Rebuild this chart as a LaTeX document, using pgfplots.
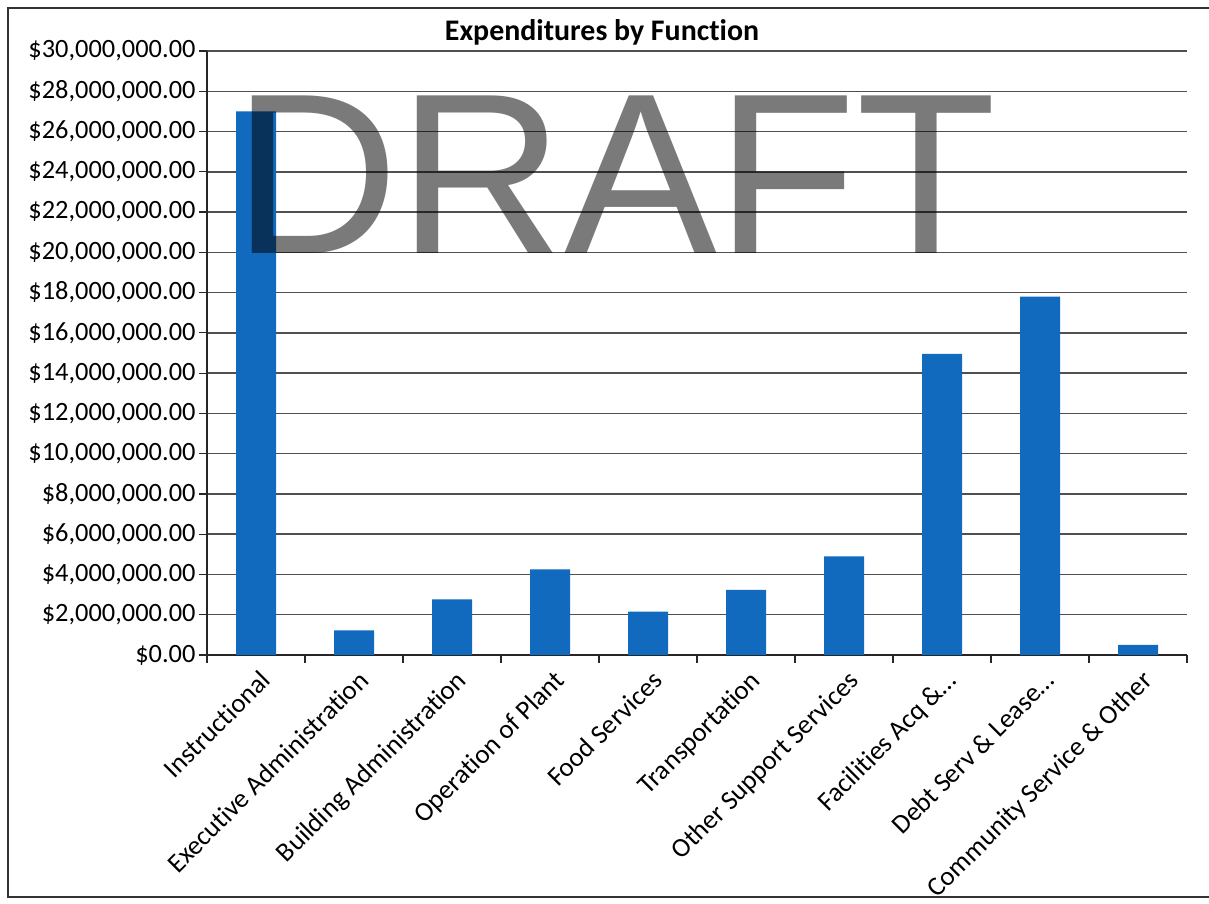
\documentclass[border=0pt]{standalone}
\usepackage{pgfplots}
\pgfplotsset{compat=1.18}
\usepackage{fontspec}
\setmainfont{Carlito}[Ligatures=NoCommon]
\newfontfamily\wmfont{Liberation Sans}
\definecolor{barblue}{RGB}{18,106,190}
\definecolor{gridgray}{RGB}{80,80,80}
\begin{document}
\begin{tikzpicture}[x=1bp,y=1bp]
\useasboundingbox (0,0) rectangle (1209,904);
% chart area frame
\draw[line width=1.5bp, black!80] (1209,896) -- (8,896) -- (8,7) -- (1209,7);
\begin{axis}[
  at={(207bp,249bp)}, anchor=south west,
  scale only axis, width=980bp, height=604bp,
  ybar, bar width=40bp,
  xmin=-0.5, xmax=9.5, ymin=0, ymax=30000000,
  enlargelimits=false,
  axis x line*=bottom, axis y line*=left,
  axis line style={-, black!85, line width=1.2bp},
  xtick=data,
  xticklabels={Instructional, Executive Administration, Building Administration,
    Operation of Plant, Food Services, Transportation, Other Support Services,
    Facilities Acq \&\ldots, Debt Serv \& Lease\ldots, Community Service \& Other},
  major x tick style={draw=none},
  minor xtick={-0.5,0.5,...,9.5},
  minor tick length=8bp, major tick length=8bp, tick align=outside,
  tick style={black!85, line width=1.2bp},
  x tick label style={rotate=45, anchor=north east, inner sep=2bp, yshift=-4bp,
    font=\fontsize{27}{30}\selectfont},
  ytick distance=2000000,
  scaled y ticks=false,
  /pgf/number format/assume math mode=true,
  yticklabel={\$\pgfmathprintnumber[fixed,fixed zerofill,precision=2,1000 sep={,}]{\tick}},
  y tick label style={font=\fontsize{26.5}{30}\selectfont},
  ymajorgrids, grid style={gridgray, line width=1.5bp},
]
\addplot[draw=none, fill=barblue] coordinates {
  (0,27000000) (1,1220000) (2,2760000) (3,4250000) (4,2150000)
  (5,3230000) (6,4900000) (7,14950000) (8,17800000) (9,500000)
};
\end{axis}
\node[font=\bfseries\fontsize{30}{34}\selectfont] at (602,872) {Expenditures by Function};
\node[anchor=base west, inner sep=0, text=black, text opacity=0.52,
  font=\wmfont\fontsize{230}{230}\selectfont] at (233,650) {DRAFT};
\end{tikzpicture}
\end{document}
